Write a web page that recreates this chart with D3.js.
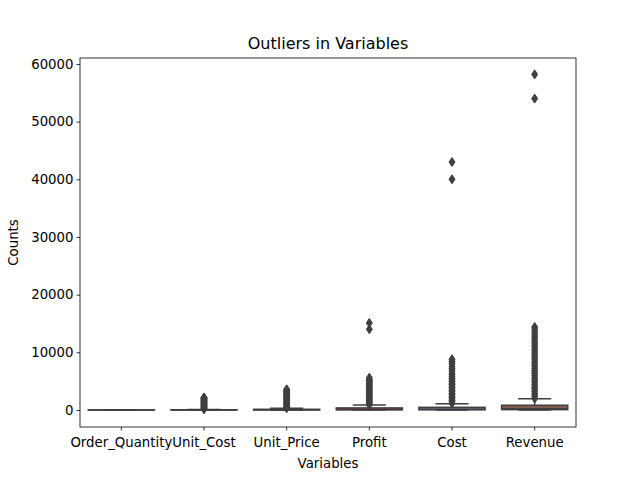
<!DOCTYPE html>
<html><head><meta charset="utf-8">
<script src="https://cdn.jsdelivr.net/npm/d3@7"></script>
<style>body{margin:0;background:#fff}text{font-family:"DejaVu Sans",sans-serif}</style>
</head><body><svg id="c" width="640" height="480"></svg>
<script>
var categories = ["Order_Quantity","Unit_Cost","Unit_Price","Profit","Cost","Revenue"];
var colors = ["#3274a1","#e1812c","#3a923a","#c03d3e","#9372b2","#845b53"];
// [whiskerLow, q1, median, q3, whiskerHigh]
var boxStats = [
  [1, 2, 10, 20, 32],
  [0, 2, 9, 42, 100],
  [2, 5, 25, 120, 290],
  [0, 30, 100, 360, 850],
  [1, 30, 110, 460, 1100],
  [2, 60, 220, 820, 1950]
];
var outliers = [
  [],
  [120,200,300,400,500,600,700,800,900,1000,1100,1200,1300,1400,1500,1600,1700,1800,1900,2000,2100,2170],
  [320,450,600,750,900,1050,1200,1350,1500,1650,1800,1950,2100,2250,2400,2550,2700,2850,3000,3150,3300,3450,3580],
  [900,1100,1300,1500,1700,1900,2100,2300,2500,2700,2900,3100,3300,3500,3700,3900,4100,4300,4500,4700,4900,5100,5300,5600,14000,15100],
  [1150,1400,1650,1900,2150,2400,2650,2900,3150,3400,3650,3900,4150,4400,4650,4900,5200,5500,5800,6100,6400,6800,7200,7600,8000,8400,8800,40000,43000],
  [2000,2400,2800,3200,3600,4000,4400,4800,5200,5600,6000,6400,6800,7200,7600,8000,8400,8800,9200,9600,10000,10400,10800,11200,11600,12000,12400,12800,13200,13600,14000,14400,54000,58200]
];
var yTicks = [0,10000,20000,30000,40000,50000,60000];

var svg = d3.select("#c");
var pLeft = 80, pRight = 576, pTop = 58, pBottom = 427;
var x = d3.scaleBand().domain(categories).range([pLeft, pRight]).paddingInner(0).paddingOuter(0);
var y = d3.scaleLinear().domain([-2950, 61040]).range([pBottom, pTop]);
var line = "#3f3f3f";
var bw = x.bandwidth() * 0.8;

categories.forEach(function(c, i) {
  var s = boxStats[i], cx = x(c) + x.bandwidth() / 2;
  var g = svg.append("g");
  g.append("line").attr("x1", cx).attr("x2", cx).attr("y1", y(s[0])).attr("y2", y(s[1])).attr("stroke", line).attr("stroke-width", 1.5);
  g.append("line").attr("x1", cx).attr("x2", cx).attr("y1", y(s[3])).attr("y2", y(s[4])).attr("stroke", line).attr("stroke-width", 1.5);
  [s[0], s[4]].forEach(function(v) {
    g.append("line").attr("x1", cx - bw / 4).attr("x2", cx + bw / 4).attr("y1", y(v)).attr("y2", y(v)).attr("stroke", line).attr("stroke-width", 1.5);
  });
  g.append("rect").attr("x", cx - bw / 2).attr("width", bw)
    .attr("y", y(s[3])).attr("height", Math.max(0, y(s[1]) - y(s[3])))
    .attr("fill", colors[i]).attr("stroke", line).attr("stroke-width", 1.5);
  g.append("line").attr("x1", cx - bw / 2).attr("x2", cx + bw / 2).attr("y1", y(s[2])).attr("y2", y(s[2])).attr("stroke", line).attr("stroke-width", 1.5);
  g.selectAll("path").data(outliers[i]).enter().append("path")
    .attr("d", "M0,-4.5L3,0L0,4.5L-3,0Z")
    .attr("transform", function(v) { return "translate(" + cx + "," + y(v) + ")"; })
    .attr("fill", line).attr("stroke", line).attr("stroke-width", 1);
});

svg.append("rect").attr("x", pLeft).attr("y", pTop).attr("width", pRight - pLeft).attr("height", pBottom - pTop)
  .attr("fill", "none").attr("stroke", "#000").attr("stroke-width", 0.8);

var xa = svg.append("g").attr("transform", "translate(0," + pBottom + ")").call(d3.axisBottom(x).tickSizeOuter(0).tickSize(3.5));
var ya = svg.append("g").attr("transform", "translate(" + pLeft + ",0)").call(d3.axisLeft(y).tickValues(yTicks).tickFormat(d3.format("d")).tickSizeOuter(0).tickSize(3.5));
[xa, ya].forEach(function(a) {
  a.select(".domain").remove();
  a.selectAll("text").attr("font-size", "13.3px").attr("fill", "#000").style("font-family", "DejaVu Sans");
  a.selectAll("line").attr("stroke", "#000").attr("stroke-width", 0.8);
});
xa.selectAll("text").attr("dy", "1em");

svg.append("text").attr("x", (pLeft + pRight) / 2).attr("y", 49).attr("text-anchor", "middle").attr("font-size", "16px").text("Outliers in Variables");
svg.append("text").attr("x", (pLeft + pRight) / 2).attr("y", 468).attr("text-anchor", "middle").attr("font-size", "13.3px").text("Variables");
svg.append("text").attr("transform", "translate(18," + (pTop + pBottom) / 2 + ") rotate(-90)").attr("text-anchor", "middle").attr("font-size", "13.3px").text("Counts");
</script></body></html>
